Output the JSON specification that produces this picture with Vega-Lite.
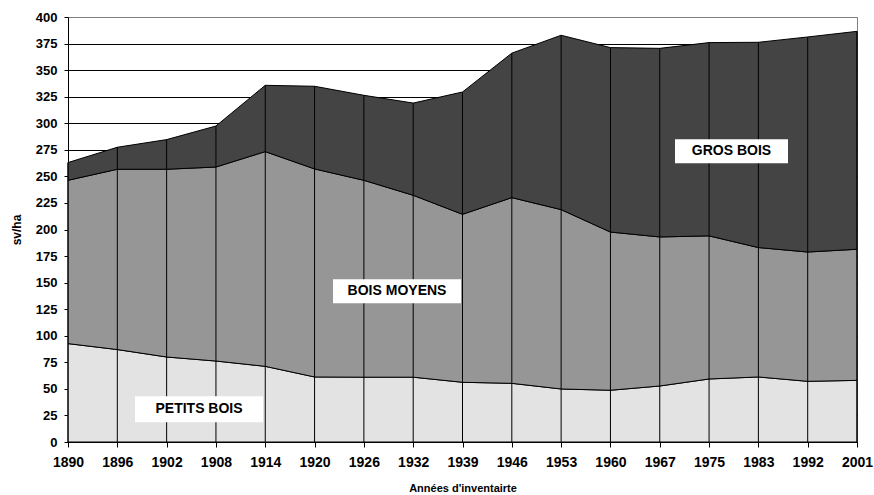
{
  "$schema": "https://vega.github.io/schema/vega-lite/v6.json",
  "width": 789,
  "height": 425,
  "autosize": {"type": "none"},
  "padding": {"left": 68, "top": 17, "right": 17, "bottom": 53},
  "background": "white",
  "config": {"view": {"stroke": "#808080", "strokeWidth": 1}, "font": "Liberation Sans"},
  "datasets": {
    "volumes": [
      {"annee": "1890", "classe": "PETITS BOIS", "sv": 92.6}, {"annee": "1890", "classe": "BOIS MOYENS", "sv": 153.7}, {"annee": "1890", "classe": "GROS BOIS", "sv": 16.7},
      {"annee": "1896", "classe": "PETITS BOIS", "sv": 87.0}, {"annee": "1896", "classe": "BOIS MOYENS", "sv": 169.7}, {"annee": "1896", "classe": "GROS BOIS", "sv": 20.7},
      {"annee": "1902", "classe": "PETITS BOIS", "sv": 80.0}, {"annee": "1902", "classe": "BOIS MOYENS", "sv": 176.7}, {"annee": "1902", "classe": "GROS BOIS", "sv": 27.9},
      {"annee": "1908", "classe": "PETITS BOIS", "sv": 76.2}, {"annee": "1908", "classe": "BOIS MOYENS", "sv": 182.6}, {"annee": "1908", "classe": "GROS BOIS", "sv": 38.6},
      {"annee": "1914", "classe": "PETITS BOIS", "sv": 71.2}, {"annee": "1914", "classe": "BOIS MOYENS", "sv": 202.1}, {"annee": "1914", "classe": "GROS BOIS", "sv": 62.4},
      {"annee": "1920", "classe": "PETITS BOIS", "sv": 61.2}, {"annee": "1920", "classe": "BOIS MOYENS", "sv": 195.8}, {"annee": "1920", "classe": "GROS BOIS", "sv": 77.8},
      {"annee": "1926", "classe": "PETITS BOIS", "sv": 61.0}, {"annee": "1926", "classe": "BOIS MOYENS", "sv": 185.3}, {"annee": "1926", "classe": "GROS BOIS", "sv": 80.0},
      {"annee": "1932", "classe": "PETITS BOIS", "sv": 61.0}, {"annee": "1932", "classe": "BOIS MOYENS", "sv": 171.2}, {"annee": "1932", "classe": "GROS BOIS", "sv": 86.8},
      {"annee": "1939", "classe": "PETITS BOIS", "sv": 56.2}, {"annee": "1939", "classe": "BOIS MOYENS", "sv": 158.1}, {"annee": "1939", "classe": "GROS BOIS", "sv": 115.1},
      {"annee": "1946", "classe": "PETITS BOIS", "sv": 55.2}, {"annee": "1946", "classe": "BOIS MOYENS", "sv": 174.8}, {"annee": "1946", "classe": "GROS BOIS", "sv": 136.0},
      {"annee": "1953", "classe": "PETITS BOIS", "sv": 49.9}, {"annee": "1953", "classe": "BOIS MOYENS", "sv": 168.8}, {"annee": "1953", "classe": "GROS BOIS", "sv": 164.1},
      {"annee": "1960", "classe": "PETITS BOIS", "sv": 48.7}, {"annee": "1960", "classe": "BOIS MOYENS", "sv": 148.9}, {"annee": "1960", "classe": "GROS BOIS", "sv": 173.6},
      {"annee": "1967", "classe": "PETITS BOIS", "sv": 52.7}, {"annee": "1967", "classe": "BOIS MOYENS", "sv": 140.3}, {"annee": "1967", "classe": "GROS BOIS", "sv": 177.5},
      {"annee": "1975", "classe": "PETITS BOIS", "sv": 59.3}, {"annee": "1975", "classe": "BOIS MOYENS", "sv": 134.7}, {"annee": "1975", "classe": "GROS BOIS", "sv": 181.9},
      {"annee": "1983", "classe": "PETITS BOIS", "sv": 61.2}, {"annee": "1983", "classe": "BOIS MOYENS", "sv": 121.8}, {"annee": "1983", "classe": "GROS BOIS", "sv": 193.2},
      {"annee": "1992", "classe": "PETITS BOIS", "sv": 57.1}, {"annee": "1992", "classe": "BOIS MOYENS", "sv": 121.7}, {"annee": "1992", "classe": "GROS BOIS", "sv": 202.4},
      {"annee": "2001", "classe": "PETITS BOIS", "sv": 58.0}, {"annee": "2001", "classe": "BOIS MOYENS", "sv": 123.4}, {"annee": "2001", "classe": "GROS BOIS", "sv": 205.1}
    ],
    "etiquettes": [
      {"texte": "GROS BOIS", "pos": 13.455, "sv": 273.6},
      {"texte": "BOIS MOYENS", "pos": 6.672, "sv": 141.8},
      {"texte": "PETITS BOIS", "pos": 2.657, "sv": 30.8}
    ]
  },
  "layer": [
    {
      "data": {"name": "volumes"},
      "layer": [
        {
          "transform": [{"calculate": "indexof(['PETITS BOIS','BOIS MOYENS','GROS BOIS'], datum.classe)", "as": "rang"}],
          "mark": {"type": "area", "stroke": "black", "strokeWidth": 1, "strokeJoin": "round", "opacity": 1},
          "encoding": {
            "x": {
              "field": "annee", "type": "ordinal", "sort": null,
              "scale": {"type": "point", "padding": 0},
              "axis": {
                "title": "Années d'inventairte", "labelAngle": 0, "grid": false,
                "labelFont": "Liberation Sans", "labelFontSize": 14, "labelFontWeight": "bold", "labelColor": "black",
                "labelPadding": 8, "tickSize": 5, "tickColor": "black", "domainColor": "black",
                "titleFont": "Liberation Sans", "titleFontSize": 11, "titleFontWeight": "bold", "titleColor": "black", "titlePadding": 13
              }
            },
            "y": {
              "field": "sv", "type": "quantitative", "stack": "zero",
              "scale": {"domain": [0, 400]},
              "axis": {
                "title": "sv/ha", "values": [0, 25, 50, 75, 100, 125, 150, 175, 200, 225, 250, 275, 300, 325, 350, 375, 400],
                "labelOverlap": false,
                "grid": true, "gridColor": {"condition": {"test": "datum.value === 400", "value": "#808080"}, "value": "black"}, "gridOpacity": 1,
                "labelFont": "Liberation Sans", "labelFontSize": 13, "labelFontWeight": "bold", "labelColor": "black",
                "labelPadding": 7, "tickSize": 4, "tickColor": "black", "domainColor": "black",
                "titleFont": "Liberation Sans", "titleFontSize": 12, "titleFontWeight": "bold", "titleColor": "black", "titlePadding": 12
              }
            },
            "color": {
              "field": "classe", "type": "nominal",
              "scale": {"domain": ["PETITS BOIS", "BOIS MOYENS", "GROS BOIS"], "range": ["#e3e3e3", "#969696", "#444444"]},
              "legend": null
            },
            "order": {"field": "rang", "type": "quantitative"}
          }
        },
        {
          "mark": {"type": "rule", "color": "black", "strokeWidth": 1},
          "encoding": {
            "x": {"field": "annee", "type": "ordinal", "sort": null},
            "y": {
              "aggregate": "sum", "field": "sv", "type": "quantitative",
              "axis": {
                "title": "sv/ha", "values": [0, 25, 50, 75, 100, 125, 150, 175, 200, 225, 250, 275, 300, 325, 350, 375, 400],
                "labelOverlap": false,
                "grid": true, "gridColor": {"condition": {"test": "datum.value === 400", "value": "#808080"}, "value": "black"}, "gridOpacity": 1,
                "labelFont": "Liberation Sans", "labelFontSize": 13, "labelFontWeight": "bold", "labelColor": "black",
                "labelPadding": 7, "tickSize": 4, "tickColor": "black", "domainColor": "black",
                "titleFont": "Liberation Sans", "titleFontSize": 12, "titleFontWeight": "bold", "titleColor": "black", "titlePadding": 12
              }
            },
            "y2": {"datum": 0}
          }
        }
      ]
    },
    {
      "data": {"name": "etiquettes"},
      "layer": [
        {
          "mark": {"type": "point", "filled": true, "color": "white", "opacity": 1, "strokeWidth": 0, "size": 16384},
          "encoding": {
            "x": {"field": "pos", "type": "quantitative", "scale": {"domain": [0, 16]}, "axis": null},
            "y": {
              "field": "sv", "type": "quantitative",
              "axis": {
                "title": "sv/ha", "values": [0, 25, 50, 75, 100, 125, 150, 175, 200, 225, 250, 275, 300, 325, 350, 375, 400],
                "labelOverlap": false,
                "grid": true, "gridColor": {"condition": {"test": "datum.value === 400", "value": "#808080"}, "value": "black"}, "gridOpacity": 1,
                "labelFont": "Liberation Sans", "labelFontSize": 13, "labelFontWeight": "bold", "labelColor": "black",
                "labelPadding": 7, "tickSize": 4, "tickColor": "black", "domainColor": "black",
                "titleFont": "Liberation Sans", "titleFontSize": 12, "titleFontWeight": "bold", "titleColor": "black", "titlePadding": 12
              }
            },
            "shape": {
              "field": "texte", "type": "nominal", "legend": null,
              "scale": {
                "domain": ["GROS BOIS", "BOIS MOYENS", "PETITS BOIS"],
                "range": ["M-0.883,-0.1875L0.883,-0.1875L0.883,0.1875L-0.883,0.1875Z", "M-1,-0.1875L1,-0.1875L1,0.1875L-1,0.1875Z", "M-1,-0.203L1,-0.203L1,0.203L-1,0.203Z"]
              }
            }
          }
        },
        {
          "mark": {"type": "text", "font": "Liberation Sans", "fontSize": 14, "fontWeight": "bold", "color": "black", "align": "center", "baseline": "middle"},
          "encoding": {
            "x": {"field": "pos", "type": "quantitative", "scale": {"domain": [0, 16]}, "axis": null},
            "y": {
              "field": "sv", "type": "quantitative",
              "axis": {
                "title": "sv/ha", "values": [0, 25, 50, 75, 100, 125, 150, 175, 200, 225, 250, 275, 300, 325, 350, 375, 400],
                "labelOverlap": false,
                "grid": true, "gridColor": {"condition": {"test": "datum.value === 400", "value": "#808080"}, "value": "black"}, "gridOpacity": 1,
                "labelFont": "Liberation Sans", "labelFontSize": 13, "labelFontWeight": "bold", "labelColor": "black",
                "labelPadding": 7, "tickSize": 4, "tickColor": "black", "domainColor": "black",
                "titleFont": "Liberation Sans", "titleFontSize": 12, "titleFontWeight": "bold", "titleColor": "black", "titlePadding": 12
              }
            },
            "text": {"field": "texte"}
          }
        }
      ]
    }
  ],
  "resolve": {"scale": {"x": "independent"}}
}
